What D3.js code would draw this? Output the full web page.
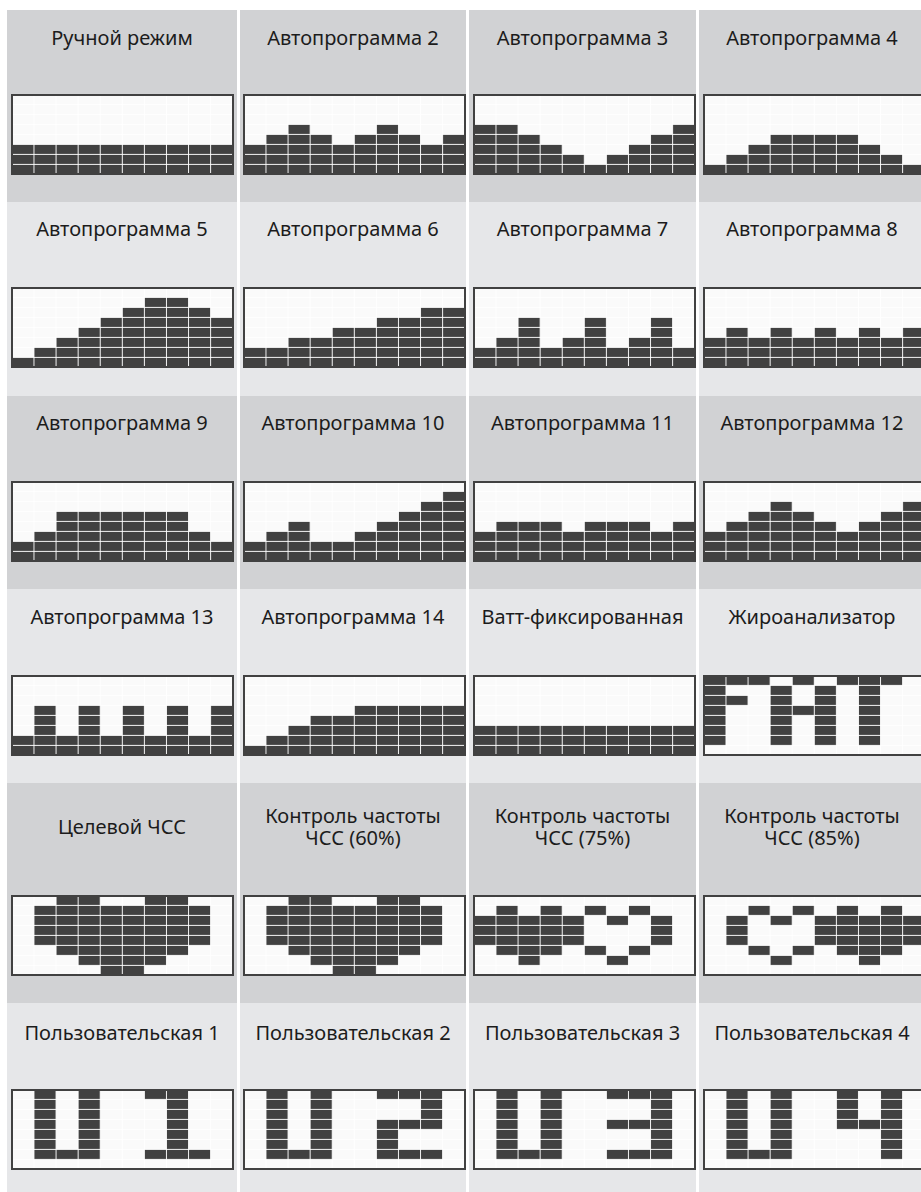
<!DOCTYPE html>
<html>
<head>
<meta charset="utf-8">
<script src="https://cdnjs.cloudflare.com/ajax/libs/d3/7.8.5/d3.min.js"></script>
<style>
  html, body { margin: 0; padding: 0; background: #fff; overflow: hidden; }
  svg { display: block; }
  .title { font-family: "Noto Sans", sans-serif; font-size: 20px; fill: #1c1c1c; text-anchor: middle; }
</style>
</head>
<body>
<div id="chart"></div>
<script>
// Program names, one line per text row
const titles = [
  ["Ручной режим"], ["Автопрограмма 2"], ["Автопрограмма 3"], ["Автопрограмма 4"],
  ["Автопрограмма 5"], ["Автопрограмма 6"], ["Автопрограмма 7"], ["Автопрограмма 8"],
  ["Автопрограмма 9"], ["Автопрограмма 10"], ["Автопрограмма 11"], ["Автопрограмма 12"],
  ["Автопрограмма 13"], ["Автопрограмма 14"], ["Ватт-фиксированная"], ["Жироанализатор"],
  ["Целевой ЧСС"], ["Контроль частоты", "ЧСС (60%)"], ["Контроль частоты", "ЧСС (75%)"], ["Контроль частоты", "ЧСС (85%)"],
  ["Пользовательская 1"], ["Пользовательская 2"], ["Пользовательская 3"], ["Пользовательская 4"]
];

// Load profiles: stack height of each of the 10 segments
const manual = [3, 3, 3, 3, 3, 3, 3, 3, 3, 3];
const auto2 = [3, 4, 5, 4, 3, 4, 5, 4, 3, 4];
const auto3 = [5, 5, 4, 3, 2, 1, 2, 3, 4, 5];
const auto4 = [1, 2, 3, 4, 4, 4, 4, 3, 2, 1];
const auto5 = [1, 2, 3, 4, 5, 6, 7, 7, 6, 5];
const auto6 = [2, 2, 3, 3, 4, 4, 5, 5, 6, 6];
const auto7 = [2, 3, 5, 2, 3, 5, 2, 3, 5, 2];
const auto8 = [3, 4, 3, 4, 3, 4, 3, 4, 3, 4];
const auto9 = [2, 3, 5, 5, 5, 5, 5, 5, 3, 2];
const auto10 = [2, 3, 4, 2, 2, 3, 4, 5, 6, 7];
const auto11 = [3, 4, 4, 4, 3, 4, 4, 4, 3, 4];
const auto12 = [3, 4, 5, 6, 5, 4, 3, 4, 5, 6];
const auto13 = [2, 5, 2, 5, 2, 5, 2, 5, 2, 5];
const auto14 = [1, 2, 3, 4, 4, 5, 5, 5, 5, 5];
const wattFixed = [3, 3, 3, 3, 3, 3, 3, 3, 3, 3];

// Dot-matrix pictures, top row first
const fatAnalyzer = ["###.#.###.", "#..#.#.#..", "##.#.#.#..", "#..###.#..", "#..#.#.#..", "#..#.#.#..", "#..#.#.#..", ".........."];
const targetHr = ["..##..##..", ".########.", ".########.", ".########.", ".########.", "..######..", "...####...", "....##...."];
const hr60 = ["..##..##..", ".########.", ".########.", ".########.", ".########.", "..######..", "...####...", "....##...."];
const hr75 = ["..........", ".#.#.#.#..", "#####.#.#.", "#####...#.", "#####...#.", ".###.#.#..", "..#...#...", ".........."];
const hr85 = ["..........", "..#.#.#.#.", ".#.#.#####", ".#...#####", ".#...#####", "..#.#.###.", "...#...#..", ".........."];
const user1 = [".#.#..##..", ".#.#...#..", ".#.#...#..", ".#.#...#..", ".#.#...#..", ".#.#...#..", ".###..###.", ".........."];
const user2 = [".#.#..###.", ".#.#....#.", ".#.#....#.", ".#.#..###.", ".#.#..#...", ".#.#..#...", ".###..###.", ".........."];
const user3 = [".#.#..###.", ".#.#....#.", ".#.#....#.", ".#.#..###.", ".#.#....#.", ".#.#....#.", ".###..###.", ".........."];
const user4 = [".#.#..#.#.", ".#.#..#.#.", ".#.#..#.#.", ".#.#..###.", ".#.#....#.", ".#.#....#.", ".###....#.", ".........."];

const programs = [
  manual, auto2, auto3, auto4, auto5, auto6, auto7, auto8,
  auto9, auto10, auto11, auto12, auto13, auto14, wattFixed, fatAnalyzer,
  targetHr, hr60, hr75, hr85, user1, user2, user3, user4
];

const width = 921;
const height = 1192;
const nCols = 10;
const nRows = 8;

// Table layout
const colEdges = [[7, 237], [240, 466], [469, 696], [699, 925]];
const chartLeft = [11, 243, 473, 703];
const rowEdges = [10, 202, 396, 589, 783, 1003, 1192];
const chartTop = [94, 287, 481, 675, 895, 1089];
const titleBase = [45, 236, 430, 624, 834, 1040];
const chartW = 223;
const chartH = 81;
const rowFill = ["#d1d2d4", "#e6e7e9"];

const svg = d3.select("#chart").append("svg").attr("width", width).attr("height", height);

// Turn a profile or a picture into filled [col, row] cells
function toCells(program) {
  const cells = [];
  if (typeof program[0] === "number") {
    program.forEach((h, c) => d3.range(nRows - h, nRows).forEach(r => cells.push([c, r])));
  } else {
    program.forEach((line, r) => line.split("").forEach((ch, c) => {
      if (ch === "#") cells.push([c, r]);
    }));
  }
  return cells;
}

programs.forEach((program, i) => {
  const col = i % 4;
  const row = Math.floor(i / 4);
  const x0 = chartLeft[col];
  const y0 = chartTop[row];

  // Table cell background
  svg.append("rect")
    .attr("x", colEdges[col][0])
    .attr("y", rowEdges[row])
    .attr("width", colEdges[col][1] - colEdges[col][0])
    .attr("height", rowEdges[row + 1] - rowEdges[row])
    .attr("fill", rowFill[row % 2]);

  // Title, centred on the cell; two-line titles share one text element
  const cx = (colEdges[col][0] + colEdges[col][1]) / 2;
  const lines = titles[i];
  const base = lines.length === 2 ? titleBase[row] - 11 : titleBase[row];
  svg.append("text")
    .attr("class", "title")
    .attr("y", base)
    .selectAll("tspan")
    .data(lines)
    .enter()
    .append("tspan")
    .attr("x", cx)
    .attr("dy", (d, k) => (k === 0 ? 0 : 22))
    .text(d => d);

  const xScale = d3.scaleBand().domain(d3.range(nCols)).range([x0 + 0.9, x0 + 221.7]);
  const yScale = d3.scaleBand().domain(d3.range(nRows)).range([y0 + 0.4, y0 + 80.4]);

  const g = svg.append("g");

  g.append("rect")
    .attr("x", x0)
    .attr("y", y0)
    .attr("width", chartW)
    .attr("height", chartH)
    .attr("fill", "#fafafa");

  g.selectAll(".cell")
    .data(toCells(program))
    .enter()
    .append("rect")
    .attr("class", "cell")
    .attr("x", d => xScale(d[0]))
    .attr("y", d => yScale(d[1]))
    .attr("width", xScale.bandwidth())
    .attr("height", yScale.bandwidth())
    .attr("fill", "#414141");

  // Segment grid
  g.selectAll(".v")
    .data(d3.range(1, nCols))
    .enter()
    .append("line")
    .attr("x1", d => xScale(d))
    .attr("x2", d => xScale(d))
    .attr("y1", y0 + 2)
    .attr("y2", y0 + chartH - 2)
    .attr("stroke", "#fff")
    .attr("stroke-opacity", 0.9)
    .attr("stroke-width", 1);

  g.selectAll(".h")
    .data(d3.range(1, nRows))
    .enter()
    .append("line")
    .attr("x1", x0 + 2)
    .attr("x2", x0 + chartW - 2)
    .attr("y1", d => yScale(d))
    .attr("y2", d => yScale(d))
    .attr("stroke", "#fff")
    .attr("stroke-opacity", 0.9)
    .attr("stroke-width", 1);

  // Frame goes on top
  g.append("rect")
    .attr("x", x0 + 1)
    .attr("y", y0 + 1)
    .attr("width", chartW - 2)
    .attr("height", chartH - 2)
    .attr("fill", "none")
    .attr("stroke", "#414141")
    .attr("stroke-width", 2);
});
</script>
</body>
</html>
